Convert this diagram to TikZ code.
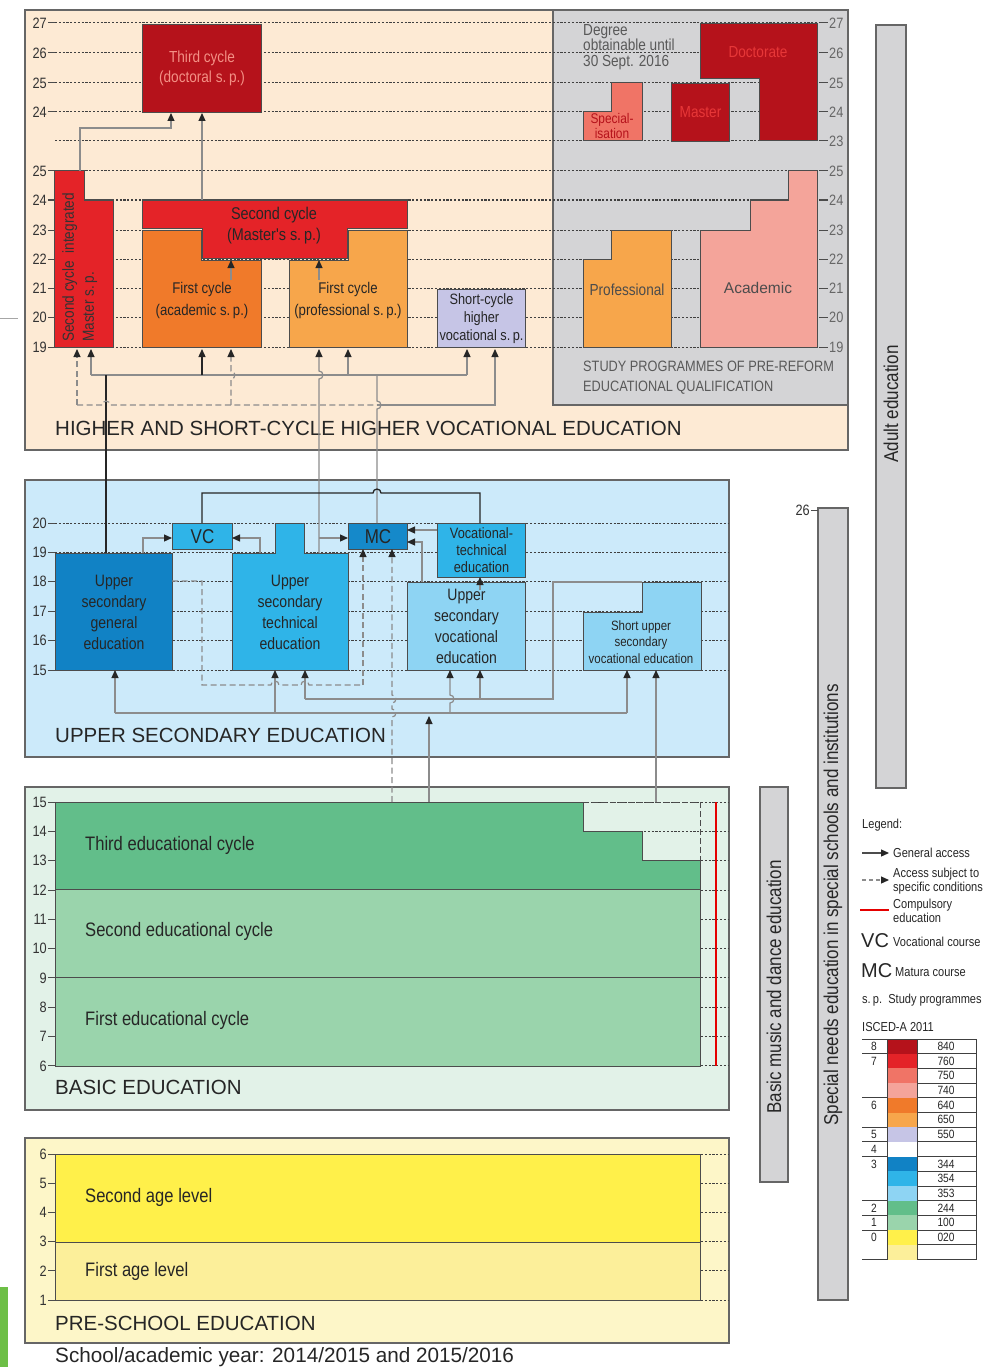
\documentclass[tikz,border=0pt]{standalone}
\usepackage{fontspec}
\setmainfont{Liberation Sans}
\newfontfamily\nfont[FakeStretch=0.85]{Liberation Sans}
\usetikzlibrary{arrows.meta}
\newcommand\fs[2]{\fontsize{#1}{#2}\selectfont}
\definecolor{c840}{HTML}{B5121B}
\definecolor{c760}{HTML}{E42328}
\definecolor{c750}{HTML}{F07466}
\definecolor{c740}{HTML}{F4A49A}
\definecolor{c640}{HTML}{F07A2A}
\definecolor{c650}{HTML}{F7A64B}
\definecolor{c550}{HTML}{C6C5E6}
\definecolor{c344}{HTML}{1182C5}
\definecolor{c354}{HTML}{2FB4E8}
\definecolor{c353}{HTML}{8ED4F3}
\definecolor{c244}{HTML}{62BE8A}
\definecolor{c100}{HTML}{9AD4AC}
\definecolor{c020}{HTML}{FFF04A}
\definecolor{c010}{HTML}{FCEF9A}
\definecolor{pch}{HTML}{FDEAD4}
\definecolor{gryp}{HTML}{D4D4D6}
\definecolor{blup}{HTML}{CCEAFA}
\definecolor{grnp}{HTML}{E2F2E8}
\definecolor{ylwp}{HTML}{FDF6C8}
\definecolor{artg}{HTML}{6DBF46}
\tikzset{
  panel/.style={draw=black!60, line width=1.3pt},
  bx/.style={draw=black!70, line width=1pt},
  bt/.style={font=\nfont\fs{16}{20}, align=center, text=black!85, inner sep=0pt},
  lab/.style={font=\nfont\fs{15}{15}, text=black!80, inner sep=1pt},
  big/.style={font=\fs{20.5}{22}, text=black!85, inner sep=0pt, anchor=west},
  dl/.style={black!75, line width=1pt, dash pattern=on 2.2pt off 1.6pt},
  tk/.style={black!70, line width=1pt},
  conn/.style={draw=black!45, line width=1.2pt},
  dconn/.style={conn, dash pattern=on 6pt off 3.5pt},
  dk/.style={draw=black!85, line width=1.3pt},
  arrw/.style={-{Triangle[length=8pt,width=7pt,color=black!85]}},
  lg/.style={font=\nfont\fs{13}{13}, text=black!85, inner sep=0pt, anchor=west, align=left},
  tn/.style={font=\nfont\fs{12}{12}, text=black!85, inner sep=0pt},
  tblline/.style={black!75, line width=0.9pt},
  side/.style={rotate=90, font=\nfont\fs{20}{20}, text=black!85, inner sep=0pt},
}
\begin{document}
\begin{tikzpicture}[x=1pt,y=-1pt]
\path[use as bounding box] (0,0) rectangle (1003,1367);
\fill[white] (0,0) rectangle (1003,1367);
% page artifacts
\draw[black!35, line width=1pt] (0,318) -- (18,318);
\fill[artg] (0,1287) rectangle (8,1367);

% ================= panels
\draw[panel, fill=pch] (25,10) rectangle (848,450);
\draw[panel, fill=gryp] (553,10) rectangle (848,405);
\draw[panel, fill=blup] (25,480) rectangle (729,757);
\draw[panel, fill=grnp] (25,787) rectangle (729,1110);
\draw[panel, fill=ylwp] (25,1138) rectangle (729,1343);

% side bars
\draw[panel, fill=gryp] (876,25) rectangle (906,788);
\node[side] (adult) at (891,404) {Adult education};
\draw[panel, fill=gryp] (818,508) rectangle (848,1300);
\node[side] (special) at (833,905) {Special needs education in special schools and institutions};
\draw[tk] (811,510) -- (818,510);
\node[lab, anchor=east] (s26) at (811,510) {26};
\draw[panel, fill=gryp] (760,787) rectangle (788,1182);
\node[side] (music) at (774,987) {Basic music and dance education};

% ================= higher education: grid
\foreach \y in {23,53,83,112,141,171,200,230,259,288,317,347} \draw[dl] (55,\y) -- (820,\y);
\foreach \l/\y [count=\i] in {27/23,26/53,25/83,24/112,25/171,24/200,23/230,22/259,21/288,20/317,19/347}{
  \draw[tk] (48,\y) -- (55,\y);
  \node[lab, anchor=east] (hl\i) at (48,\y) {\l};
}
\foreach \l/\y [count=\i] in {27/23,26/53,25/83,24/112,23/141,25/171,24/200,23/230,22/259,21/288,20/317,19/347}{
  \draw[tk] (820,\y) -- (828,\y);
  \node[lab, anchor=west, text=black!60] (hr\i) at (828,\y) {\l};
}

% pre-reform programmes
\draw[bx, fill=c840] (700,24) -- (817,24) -- (817,141) -- (759,141) -- (759,79) -- (700,79) -- cycle;
\node[bt, text=c760!75!c750] (doct) at (758,52) {Doctorate};
\node[bx, fill=c840, minimum width=58, minimum height=58, anchor=north west] (mast) at (671,83) {};
\node[bt, text=c760!75!c750] (mastt) at (mast.center) {Master};
\draw[bx, fill=c750] (583,112) -- (611,112) -- (611,83) -- (642,83) -- (642,141) -- (583,141) -- cycle;
\node[bt, font=\nfont\fs{14}{13}, text=c840] (spec) at (612,126) {Special-\\isation};
\node[anchor=north west, align=left, font=\nfont\fs{16}{15.5}, text=black!65, inner sep=0pt] (deg) at (583,24) {Degree\\obtainable until\\30 Sept. 2016};
\draw[bx, fill=c650] (583,259) -- (611,259) -- (611,230) -- (671,230) -- (671,347) -- (583,347) -- cycle;
\node[bt, text=black!70] (prof) at (627,290) {Professional};
\draw[bx, fill=c740] (700,347) -- (700,230) -- (750,230) -- (750,200) -- (788,200) -- (788,171) -- (817,171) -- (817,347) -- cycle;
\node[bt, font=\fs{15.5}{16}, text=black!70] (acad) at (758,288) {Academic};
\node[anchor=north west, align=left, font=\nfont\fs{15}{20}, text=black!65, inner sep=0pt] (study) at (583,361) {STUDY PROGRAMMES OF PRE-REFORM\\EDUCATIONAL QUALIFICATION};

% higher boxes
\node[bx, fill=c840, minimum width=119, minimum height=88, anchor=north west] (third) at (142,24) {};
\node[bt, text=c750!80!white] (thirdt) at (third.center) {Third cycle\\(doctoral s.\,p.)};
\draw[bx, fill=c760] (54,171) -- (84,171) -- (84,200) -- (113,200) -- (113,347) -- (54,347) -- cycle;
\node[bt, rotate=90, anchor=north west, align=left, text=black!80] (integ) at (62,342) {Second cycle \ integrated\\Master s.\,p.};
\draw[bx, fill=c760] (142,200) -- (407,200) -- (407,228) -- (347,228) -- (347,258) -- (202,258) -- (202,228) -- (142,228) -- cycle;
\node[bt, font=\nfont\fs{17}{21}] (second) at (274,226) {Second cycle\\(Master's s.\,p.)};
\draw[bx, fill=c640] (142,230) -- (201,230) -- (201,260) -- (261,260) -- (261,347) -- (142,347) -- cycle;
\node[bt, font=\nfont\fs{15.5}{22}] (fca) at (202,300) {First cycle\\(academic s.\,p.)};
\draw[bx, fill=c650] (289,260) -- (348,260) -- (348,230) -- (407,230) -- (407,347) -- (289,347) -- cycle;
\node[bt, font=\nfont\fs{15.5}{22}] (fcp) at (348,300) {First cycle\\(professional s.\,p.)};
\node[bx, fill=c550, minimum width=88, minimum height=58, anchor=north west] (short) at (437,289) {};
\node[bt, font=\nfont\fs{15}{18}] (shortt) at (short.center) {Short-cycle\\higher\\vocational s.\,p.};

\node[big] (hlab) at (55,428) {HIGHER AND SHORT-CYCLE HIGHER VOCATIONAL EDUCATION};

% ================= upper secondary
\foreach \l/\y [count=\i] in {20/523,19/552.4,18/581.8,17/611.2,16/640.6,15/670}{
  \draw[dl] (55,\y) -- (729,\y);
  \draw[tk] (48,\y) -- (55,\y);
  \node[lab, anchor=east] (ul\i) at (48,\y) {\l};
}
\node[bx, fill=c344, minimum width=117, minimum height=117, anchor=north west] (gen) at (55,553) {};
\node[bt, font=\nfont\fs{16.5}{21}] (gent) at (gen.center) {Upper\\secondary\\general\\education};
\node[bx, fill=c354, minimum width=60, minimum height=26, anchor=north west] (vc) at (172,523) {};
\node[bt, font=\nfont\fs{20}{20}] (vct) at (vc.center) {VC};
\draw[bx, fill=c354] (232,553) -- (275,553) -- (275,523) -- (304,523) -- (304,553) -- (348,553) -- (348,670) -- (232,670) -- cycle;
\node[bt, font=\nfont\fs{16.5}{21}] (tech) at (290,612) {Upper\\secondary\\technical\\education};
\node[bx, fill=c344!85!c354, minimum width=59, minimum height=26, anchor=north west] (mc) at (348,523) {};
\node[bt, font=\nfont\fs{20}{20}] (mct) at (mc.center) {MC};
\node[bx, fill=c354, minimum width=88, minimum height=54, anchor=north west] (vte) at (437,523) {};
\node[bt, font=\nfont\fs{15}{17}] (vtet) at (vte.center) {Vocational-\\technical\\education};
\node[bx, fill=c353, minimum width=118, minimum height=88, anchor=north west] (usv) at (407,582) {};
\node[bt, font=\nfont\fs{16.5}{21}] (usvt) at (usv.center) {Upper\\secondary\\vocational\\education};
\draw[bx, fill=c353] (583,612) -- (642,612) -- (642,582) -- (701,582) -- (701,670) -- (583,670) -- cycle;
\node[bt, font=\nfont\fs{13.5}{16.5}] (susv) at (641,642) {Short upper\\secondary\\vocational education};
\node[big] (ulab) at (55,735) {UPPER SECONDARY EDUCATION};

% ================= basic education
\foreach \l [count=\i from 0] in {15,14,13,12,11,10,9,8,7,6}{
  \pgfmathsetmacro\yy{802+\i*29.33}
  \draw[dl] (55,\yy) -- (729,\yy);
  \draw[tk] (48,\yy) -- (55,\yy);
  \node[lab, anchor=east] (bl\i) at (48,\yy) {\l};
}
\draw[bx, fill=c100] (55,889) rectangle (700,1066);
\draw[bx] (55,977) -- (700,977);
\draw[bx, fill=c244] (55,802) -- (583,802) -- (583,831) -- (642,831) -- (642,860) -- (700,860) -- (700,889) -- (55,889) -- cycle;
\node[bt, font=\nfont\fs{19.5}{20}, anchor=west] (b3) at (85,845) {Third educational cycle};
\node[bt, font=\nfont\fs{19.5}{20}, anchor=west] (b2) at (85,931) {Second educational cycle};
\node[bt, font=\nfont\fs{19.5}{20}, anchor=west] (b1) at (85,1020) {First educational cycle};
\draw[black!70, line width=1pt, dash pattern=on 6pt off 3pt] (583,802) -- (700,802) -- (700,860);
\draw[red!90!black, line width=2.4pt] (716,802) -- (716,1066);
\node[big] (blab) at (55,1087) {BASIC EDUCATION};

% ================= pre-school
\foreach \l [count=\i from 0] in {6,5,4,3,2,1}{
  \pgfmathsetmacro\yy{1154+\i*29.2}
  \draw[dl] (55,\yy) -- (729,\yy);
  \draw[tk] (48,\yy) -- (55,\yy);
  \node[lab, anchor=east] (pl\i) at (48,\yy) {\l};
}
\draw[bx, fill=c020] (55,1154) rectangle (700,1242);
\draw[bx, fill=c010] (55,1242) rectangle (700,1300);
\node[bt, font=\nfont\fs{19.5}{20}, anchor=west] (p2) at (85,1197) {Second age level};
\node[bt, font=\nfont\fs{19.5}{20}, anchor=west] (p1) at (85,1271) {First age level};
\node[big] (plab) at (55,1323) {PRE-SCHOOL EDUCATION};
\node[big, font=\fs{20.7}{22}] (year) at (55,1357) {School/academic year: 2014/2015 and 2015/2016};

% ================= connectors: higher
\draw[conn, arrw] (80,171) -- (80,128) -- (171,128) -- (171,113);
\draw[conn, arrw] (202,200) -- (202,113);
\draw[conn, arrw] (231,280) -- (231,260);
\draw[conn, arrw] (319,280) -- (319,260);
\draw[conn] (91,375) -- (467,375);
\draw[conn, arrw] (91,375) -- (91,349);
\draw[dk, arrw] (202,375) -- (202,349);
\draw[conn, arrw] (348,375) -- (348,349);
\draw[conn, arrw] (467,375) -- (467,349);
\draw[dk] (106,553) -- (106,375);
\draw[dconn] (77,405) -- (102,405) arc[start angle=180, end angle=360, radius=4] -- (377,405);
\draw[dconn, arrw] (77,405) -- (77,349);
\draw[dconn, arrw] (231,405) -- (231,379) arc[start angle=90, end angle=-90, radius=4] -- (231,349);
\draw[conn, arrw] (377,405) -- (495,405) -- (495,349);
\draw[conn] (377,523) -- (377,409) arc[start angle=90, end angle=-90, radius=4] -- (377,375);
\draw[conn, arrw] (319,553) -- (319,379) arc[start angle=90, end angle=-90, radius=4] -- (319,349);

% ================= connectors: upper secondary
\draw[conn, arrw] (319,538) -- (348,538);
\draw[dk] (202,523) -- (202,493) -- (373,493) arc[start angle=180, end angle=360, radius=4] -- (480,493) -- (480,523);
\draw[conn, arrw] (143,553) -- (143,538) -- (172,538);
\draw[conn, arrw] (260,553) -- (260,538) -- (232,538);
\draw[conn, arrw] (437,530) -- (407,530);
\draw[conn, arrw] (422,582) -- (422,542) -- (407,542);
\draw[conn, arrw] (480,590) -- (480,577);
\draw[dconn] (172,581) -- (202,581) -- (202,685) -- (271,685) arc[start angle=180, end angle=360, radius=4] -- (301,685) arc[start angle=180, end angle=360, radius=4] -- (363,685);
\draw[dconn, arrw] (363,685) -- (363,549);
\draw[dconn, arrw] (392,802) -- (392,717) arc[start angle=90, end angle=-90, radius=4] -- (392,703) arc[start angle=90, end angle=-90, radius=4] -- (392,549);
\draw[conn] (115,713) -- (627,713);
\draw[conn, arrw] (115,713) -- (115,670);
\draw[conn, arrw] (275,713) -- (275,670);
\draw[conn, arrw] (450,713) -- (450,703) arc[start angle=90, end angle=-90, radius=4] -- (450,670);
\draw[conn, arrw] (627,713) -- (627,670);
\draw[conn, arrw] (429,802) -- (429,716);
\draw[conn] (305,699) -- (553,699) -- (553,582) -- (642,582);
\draw[conn, arrw] (305,699) -- (305,670);
\draw[conn, arrw] (480,699) -- (480,670);
\draw[conn, arrw] (656,802) -- (656,670);

% ================= legend
\node[lg] (lgd) at (862,825) {Legend:};
\draw[draw=black!70, line width=1.2pt, arrw] (862,853) -- (889,853);
\node[lg] (lg1) at (893,853) {General access};
\draw[dconn, dash pattern=on 4pt off 3pt, arrw] (862,880) -- (889,880);
\node[lg, font=\nfont\fs{13}{13.5}] (lg2) at (893,881) {Access subject to\\specific conditions};
\draw[red!90!black, line width=2.5pt] (860,910) -- (889,910);
\node[lg, font=\nfont\fs{13}{13.5}] (lg3) at (893,911) {Compulsory\\education};
\node[lg, font=\fs{20}{20}] (lgvc) at (861,941) {VC};
\node[lg] (lg4) at (893,942) {Vocational course};
\node[lg, font=\fs{20}{20}] (lgmc) at (861,971) {MC};
\node[lg] (lg5) at (895,972) {Matura course};
\node[lg] (lg6) at (862,1000) {s.\,p.\ \ Study programmes};
\node[lg] (lg7) at (862,1027) {ISCED-A 2011};
\foreach \n/\cd/\col [count=\i from 0] in {8/840/c840,7/760/c760,/750/c750,/740/c740,6/640/c640,/650/c650,5/550/c550,4//white,3/344/c344,/354/c354,/353/c353,2/244/c244,1/100/c100,0/020/c020,//c010}{
  \pgfmathsetmacro\ya{1039+\i*14.7}
  \pgfmathsetmacro\yb{\ya+14.7}
  \pgfmathsetmacro\yc{\ya+7.35}
  \fill[\col] (888,\ya) rectangle (917,\yb);
  \draw[tblline] (917,\yb) -- (976,\yb);
  \node[tn] (tn\i) at (874,\yc) {\n};
  \node[tn] (tc\i) at (946,\yc) {\cd};
}
\foreach \i in {0,1,4,6,7,8,11,12,13,15}{
  \pgfmathsetmacro\ya{1039+\i*14.7}
  \draw[tblline] (862,\ya) -- (887,\ya);
}
\draw[tblline] (862,1039) -- (976,1039);
\draw[tblline] (887,1039) -- (887,1259.5);
\draw[tblline] (917,1039) -- (917,1259.5);
\draw[tblline] (976,1039) -- (976,1259.5);
\end{tikzpicture}
\end{document}
